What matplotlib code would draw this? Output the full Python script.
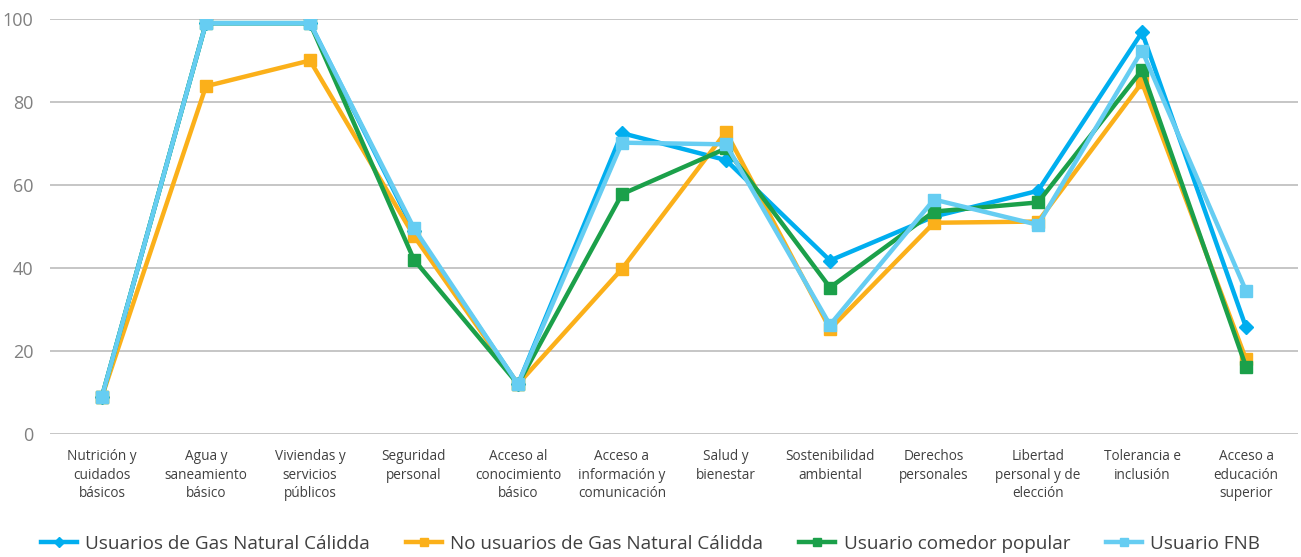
import matplotlib
matplotlib.use("Agg")
import matplotlib.pyplot as plt

categorias = ["Nutrición y\ncuidados\nbásicos", "Agua y\nsaneamiento\nbásico",
              "Viviendas y\nservicios\npúblicos", "Seguridad\npersonal",
              "Acceso al\nconocimiento\nbásico", "Acceso a\ninformación y\ncomunicación",
              "Salud y\nbienestar", "Sostenibilidad\nambiental", "Derechos\npersonales",
              "Libertad\npersonal y de\nelección", "Tolerancia e\ninclusión",
              "Acceso a\neducación\nsuperior"]

gas_natural = [9, 99, 99, 49, 12, 72.5, 66, 41.8, 52.4, 58.6, 96.8, 25.7]
no_gas_natural = [9, 83.8, 90, 47.7, 12, 39.8, 72.8, 25.3, 50.9, 51.2, 84.7, 18]
comedor = [9, 99, 99, 42, 12, 57.8, 68.8, 35.3, 53.6, 55.8, 87.7, 16.2]
fnb = [9, 99, 99, 49.6, 12, 70.2, 69.8, 26.3, 56.5, 50.4, 92.4, 34.5]

series = [
    ("Usuarios de Gas Natural Cálidda", gas_natural, "#00AEEF", "D", 7),
    ("No usuarios de Gas Natural Cálidda", no_gas_natural, "#FBB01A", "s", 8),
    ("Usuario comedor popular", comedor, "#1BA04A", "s", 8),
    ("Usuario FNB", fnb, "#66CDF2", "s", 9),
]

plt.rcParams["font.family"] = ["Open Sans", "DejaVu Sans"]
fig = plt.figure(figsize=(13.01, 5.57), dpi=100)
ax = fig.add_axes([0.0384, 0.2208, 0.9593, 0.7451])

x = range(len(categorias))
for nombre, vals, col, mk, ms in series:
    ax.plot(x, vals, color=col, lw=3.2, marker=mk, ms=ms, label=nombre,
            solid_joinstyle="miter")

ax.set_xlim(-0.5, len(categorias) - 0.5)
ax.set_ylim(0, 100)
ax.set_yticks(range(0, 101, 20))
ax.yaxis.grid(True, color="#c6c6c6", lw=1.4)
ax.set_axisbelow(True)
for s in ax.spines.values():
    s.set_visible(False)
ax.tick_params(axis="both", length=0)
ax.tick_params(axis="y", labelsize=13, labelcolor="#808080", pad=12)
ax.set_xticks(list(x))
ax.set_xticklabels(categorias, fontsize=9.8, color="#404040", linespacing=1.3)
ax.tick_params(axis="x", pad=11)

fig.legend(loc="center", bbox_to_anchor=(0.5, 0.024), ncol=4, frameon=False,
           fontsize=13.6, handlelength=1.9, columnspacing=1.9, labelcolor="#404040",
           handletextpad=0.45, markerscale=0.7)

fig.savefig("out.png", dpi=100)
